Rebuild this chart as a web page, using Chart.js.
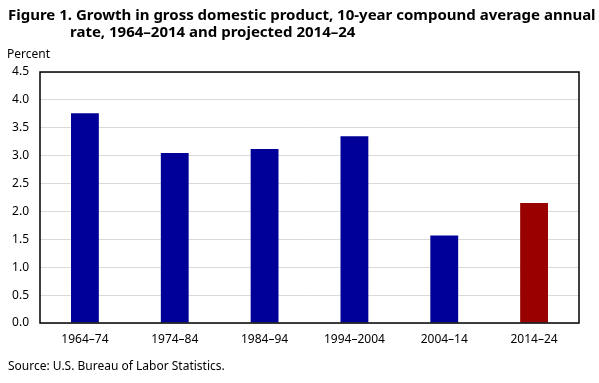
<!DOCTYPE html>
<html>
<head>
<meta charset="utf-8">
<script src="https://cdn.jsdelivr.net/npm/chart.js@4/dist/chart.umd.min.js"></script>
<style>
  body { margin: 0; background: #fff; }
  #wrap { position: relative; width: 599px; height: 383px; overflow: hidden; font-family: "Noto Sans", sans-serif; color: #000; }
  #title { position: absolute; left: 8px; top: 6px; font-weight: bold; font-size: 15px; line-height: 17px; white-space: nowrap; }
  #title .l2 { padding-left: 62px; }
  #unit { position: absolute; left: 7px; top: 45px; font-size: 12px; }
  #source { position: absolute; left: 8px; top: 357px; font-size: 12px; }
  canvas { position: absolute; left: 0; top: 0; }
</style>
</head>
<body>
<div id="wrap">
  <canvas id="chart" width="599" height="383"></canvas>
  <div id="title">Figure 1. Growth in gross domestic product, 10-year compound average annual<br><span class="l2">rate, 1964–2014 and projected 2014–24</span></div>
  <div id="unit">Percent</div>
  <div id="source">Source: U.S. Bureau of Labor Statistics.</div>
</div>
<script>
// Chart data
const categories = ['1964–74', '1974–84', '1984–94', '1994–2004', '2004–14', '2014–24'];
const growthRates = [3.76, 3.05, 3.12, 3.35, 1.57, 2.15];
const barColors = ['#000099', '#000099', '#000099', '#000099', '#000099', '#990000'];
const yTicks = [0, 0.5, 1.0, 1.5, 2.0, 2.5, 3.0, 3.5, 4.0, 4.5];

// draw box around plot area
const frameBox = {
  id: 'frameBox',
  afterDraw(chart) {
    const a = chart.chartArea;
    const c = chart.ctx;
    c.save();
    c.strokeStyle = '#000';
    c.lineWidth = 1.5;
    c.strokeRect(a.left, a.top, a.right - a.left, a.bottom - a.top);
    c.restore();
  }
};

const ctx = document.getElementById('chart').getContext('2d');
new Chart(ctx, {
  type: 'bar',
  data: {
    labels: categories,
    datasets: [{
      data: growthRates,
      backgroundColor: barColors,
      borderWidth: 0,
      barPercentage: 0.31,
      categoryPercentage: 1.0
    }]
  },
  options: {
    responsive: false,
    animation: false,
    layout: { padding: { top: 72, right: 20, left: 0, bottom: 0 } },
    plugins: {
      legend: { display: false },
      tooltip: { enabled: false }
    },
    scales: {
      x: {
        grid: { display: false, drawTicks: false },
        border: { display: false },
        ticks: { color: '#000', font: { family: 'Noto Sans', size: 12 }, padding: 9, maxRotation: 0 },
        afterFit(scale) { scale.height = 60; }
      },
      y: {
        min: 0,
        max: 4.5,
        afterBuildTicks(scale) { scale.ticks = yTicks.map(v => ({ value: v })); },
        grid: { color: '#d9d9d9', lineWidth: 1, drawTicks: false },
        border: { display: false },
        ticks: {
          color: '#000',
          font: { family: 'Noto Sans', size: 12 },
          padding: 11,
          callback: v => Number(v).toFixed(1)
        },
        afterFit(scale) { scale.width = 40; }
      }
    }
  },
  plugins: [frameBox]
});
</script>
</body>
</html>
